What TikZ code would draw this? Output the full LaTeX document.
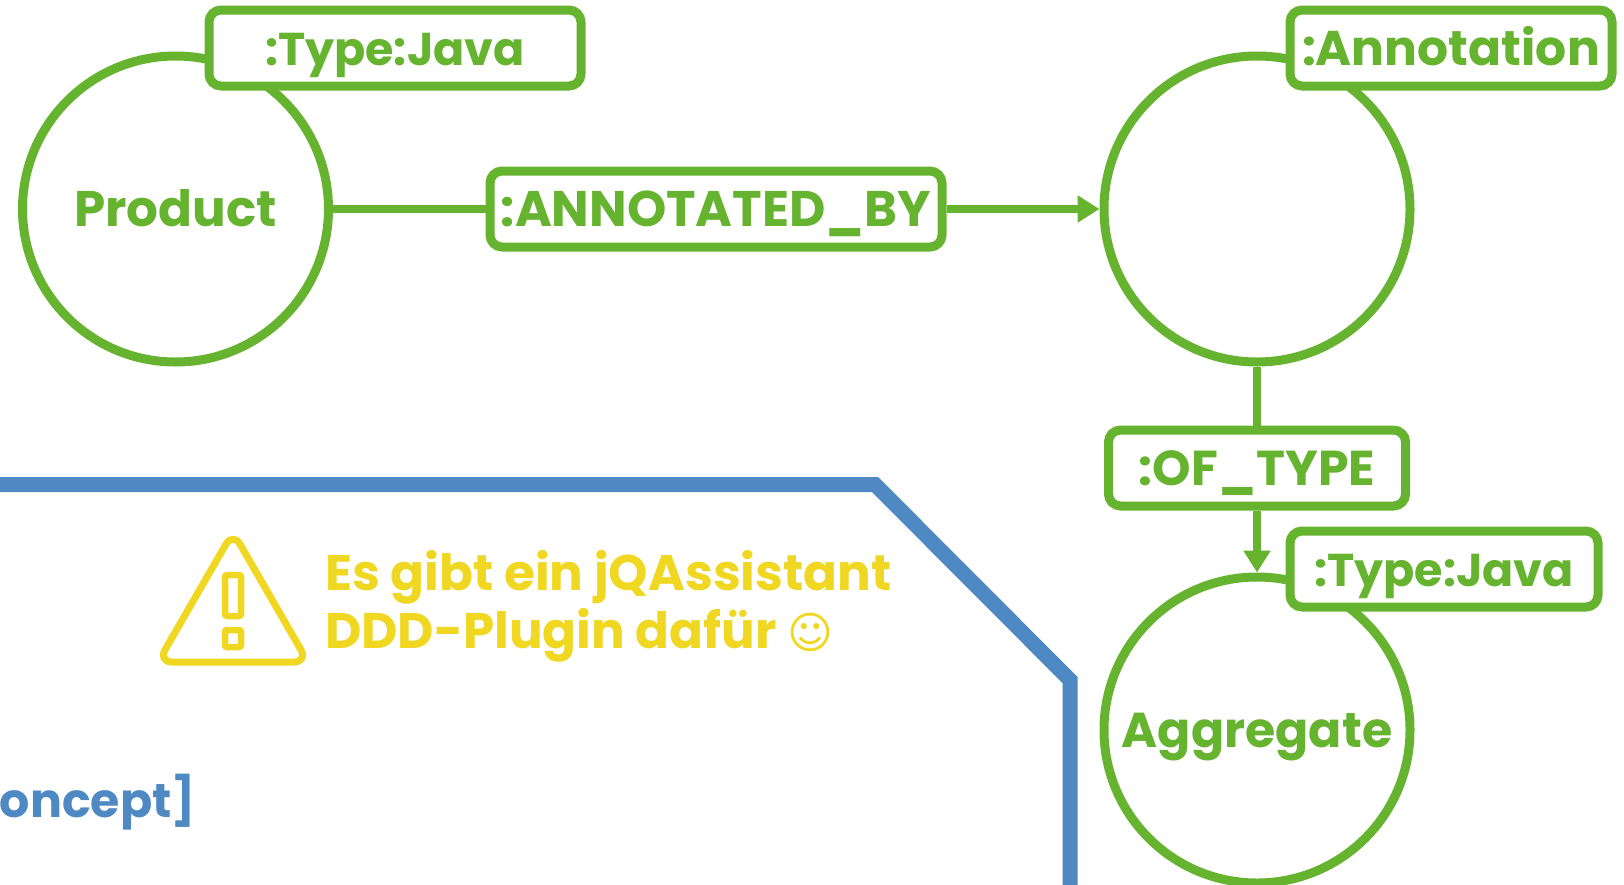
\documentclass[tikz,border=0pt]{standalone}
\usetikzlibrary{arrows.meta}
\usepackage{fontspec}
\setmainfont{Poppins}
\newfontfamily\dejavu{DejaVu Sans}
\definecolor{grn}{HTML}{65B32E}
\definecolor{blu}{HTML}{4F89C3}
\definecolor{yel}{HTML}{F0D722}
\begin{document}
\begin{tikzpicture}[x=1pt,y=-1pt,
  circ/.style={circle,draw=grn,line width=9pt,minimum size=306pt,inner sep=0pt,fill=white},
  lab/.style={draw=grn,line width=9pt,rounded corners=12pt,fill=white,inner sep=0pt,text height=34pt,text depth=0pt,text=grn},
  conn/.style={draw=grn,line width=8pt},
  txt/.style={text height=34pt,text depth=0pt,text=grn},
  fs/.style={font=\fontsize{#1}{54}\selectfont\bfseries},
  arr/.style={-{Triangle[length=22pt,width=26pt]}}]
\useasboundingbox (0,0) rectangle (1624,884.5);
\draw[blu,line width=15pt] (-10,484.5) -- (875,484.5) -- (1070,680) -- (1070,896);
\node[circ] (c1) at (175.5,209) {};
\node[circ] (c2) at (1257,209) {};
\node[circ] (c3) at (1257,730) {};
\node[txt,fs=50] (p) at (175.5,209) {Product};
\node[txt,fs=49] (a) at (1257,730) {Aggregate};
\node[lab,fs=46,minimum width=372pt,minimum height=76pt] (t1) at (395,48) {:Type:Java};
\node[lab,fs=48.8,minimum width=322pt,minimum height=76pt] (t2) at (1451,48) {:Annotation};
\node[lab,fs=46,minimum width=308pt,minimum height=76pt] (t3) at (1444,569) {:Type:Java};
\node[lab,fs=50,minimum width=452pt,minimum height=76pt] (r1) at (716,209) {:ANNOTATED\_BY};
\node[lab,fs=49,minimum width=297pt,minimum height=76pt] (r2) at (1257,468) {:OF\_TYPE};
\draw[conn] (c1) -- (r1);
\draw[conn,arr] (r1) -- (c2);
\draw[conn] (c2) -- (r2);
\draw[conn,arr] (r2) -- (c3);
\node[anchor=west,align=left,inner sep=0pt,text=yel,font=\fontsize{50}{58}\selectfont\bfseries] (note) at (325,606) {Es gibt ein jQAssistant\\DDD-Plugin dafür {\dejavu\fontsize{44}{58}\selectfont ☺}};
\node[anchor=east,inner sep=0pt,text=blu,font=\fontsize{47.5}{54}\selectfont\bfseries] (k) at (196,802) {oncept]};
\draw[yel,line width=7pt,rounded corners=14pt,line join=round] (233,532) -- (308,662) -- (158,662) -- cycle;
\draw[yel,line width=6.5pt,rounded corners=2pt] (225,575) rectangle (241,616);
\draw[yel,line width=6.5pt,rounded corners=2pt] (225,630) rectangle (241,647);
\end{tikzpicture}
\end{document}
